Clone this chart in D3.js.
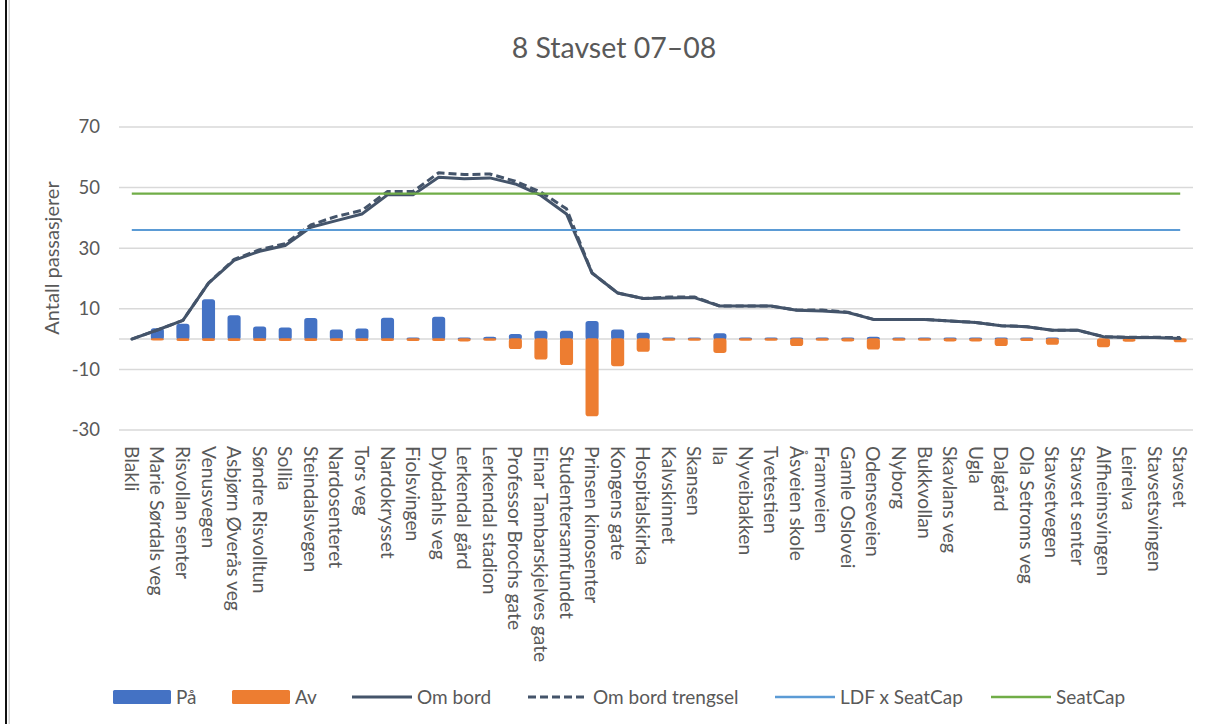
<!DOCTYPE html>
<html>
<head>
<meta charset="utf-8">
<script src="https://cdn.jsdelivr.net/npm/d3@7"></script>
<style>
  html, body { margin: 0; padding: 0; background: #ffffff; }
  svg { display: block; }
  text { font-family: Lato, "Open Sans", sans-serif; fill: #595959; }
</style>
</head>
<body>
<svg id="chart" width="1208" height="724"></svg>
<script>
// Stops along route 8 (Blakli → Stavset)
const stops = [
  "Blakli", "Marie Sørdals veg", "Risvollan senter", "Venusvegen", "Asbjørn Øverås veg",
  "Søndre Risvolltun", "Sollia", "Steindalsvegen", "Nardosenteret", "Tors veg",
  "Nardokrysset", "Fiolsvingen", "Dybdahls veg", "Lerkendal gård", "Lerkendal stadion",
  "Professor Brochs gate", "Einar Tambarskjelves gate", "Studentersamfundet", "Prinsen kinosenter", "Kongens gate",
  "Hospitalskirka", "Kalvskinnet", "Skansen", "Ila", "Nyveibakken",
  "Tvetestien", "Åsveien skole", "Framveien", "Gamle Oslovei", "Odenseveien",
  "Nyborg", "Bukkvollan", "Skavlans veg", "Ugla", "Dalgård",
  "Ola Setroms veg", "Stavsetvegen", "Stavset senter", "Alfheimsvingen", "Leirelva",
  "Stavsetsvingen", "Stavset"
];

// Boarding (På) per stop
const paa = [
  0, 3.3, 4.8, 12.9, 7.6, 3.9, 3.6, 6.7, 2.9, 3.2,
  6.8, 0.3, 7.1, 0.3, 0.5, 1.4, 2.5, 2.5, 5.7, 2.9,
  1.8, 0.3, 0.3, 1.7, 0.3, 0.3, 0.3, 0.3, 0.3, 0.5,
  0.3, 0.3, 0.3, 0.3, 0.3, 0.3, 0.3, 0, 0, 0,
  0, 0
];

// Alighting (Av) per stop, negative
const av = [
  0, -0.2, -0.4, -0.4, -0.4, -0.4, -0.4, -0.4, -0.4, -0.4,
  -0.4, -0.4, -0.4, -0.5, -0.3, -3.0, -6.5, -8.3, -25.2, -8.7,
  -3.9, -0.3, -0.3, -4.3, -0.3, -0.3, -2.0, -0.3, -0.5, -3.2,
  -0.3, -0.3, -0.5, -0.5, -2.0, -0.4, -1.6, 0, -2.4, -0.6,
  0, -0.8
];

// Passengers on board after each stop
const omBord = [
  0, 3.0, 6.2, 18.5, 26.0, 29.0, 30.9, 36.9, 39.1, 41.3,
  47.6, 47.6, 53.4, 52.9, 53.2, 51.2, 47.4, 41.3, 21.8, 15.2,
  13.4, 13.6, 13.7, 10.9, 10.9, 10.9, 9.5, 9.3, 8.8, 6.5,
  6.5, 6.5, 6.0, 5.5, 4.4, 4.1, 2.9, 2.9, 0.8, 0.5,
  0.5, 0.2
];

// On board, crowded departures
const omBordTrengsel = [
  0, 3.0, 6.2, 18.5, 26.3, 29.5, 31.5, 37.7, 40.5, 42.5,
  48.7, 48.7, 54.9, 54.3, 54.5, 52.1, 48.5, 43.0, 21.8, 15.2,
  13.4, 13.9, 13.9, 10.9, 10.9, 10.9, 9.6, 9.6, 8.9, 6.5,
  6.5, 6.5, 6.0, 5.5, 4.4, 4.1, 2.9, 2.9, 0.8, 0.6,
  0.6, 0.5
];

// Capacity reference levels
const ldfSeatCap = 36;
const seatCap = 48;

const yTicks = [-30, -10, 10, 30, 50, 70];

const title = "8 Stavset 07–08";
const yTitle = "Antall passasjerer";

const colors = {
  paa: "#4472C4",
  av: "#ED7D31",
  bord: "#44546A",
  ldf: "#5B9BD5",
  seat: "#70AD47",
  grid: "#D9D9D9"
};

const svg = d3.select("#chart");

// Frame edge on the left
svg.append("rect").attr("x", 5).attr("y", 0).attr("width", 2).attr("height", 724).attr("fill", "#111");
svg.append("rect").attr("x", 8.5).attr("y", 0).attr("width", 1.5).attr("height", 724).attr("fill", "#d4d4d4");

const plot = { left: 119, right: 1193, top: 127, bottom: 430 };

const x = d3.scaleBand().domain(stops).range([plot.left, plot.right]).padding(0);
const y = d3.scaleLinear().domain([-30, 70]).range([plot.bottom, plot.top]);
const cx = d => x(d) + x.bandwidth() / 2;

// Gridlines
svg.append("g").selectAll("line").data(yTicks).join("line")
  .attr("x1", plot.left).attr("x2", plot.right)
  .attr("y1", d => y(d)).attr("y2", d => y(d))
  .attr("stroke", colors.grid).attr("stroke-width", 1.5);

// Category axis line at zero
svg.append("line")
  .attr("x1", plot.left).attr("x2", plot.right)
  .attr("y1", y(0)).attr("y2", y(0))
  .attr("stroke", colors.grid).attr("stroke-width", 1.5);

// Value axis labels (plain hyphen for negatives)
const yAxis = d3.axisLeft(y).tickValues(yTicks).tickSize(0).tickPadding(0)
  .tickFormat(d => String(d));
const gy = svg.append("g").attr("transform", `translate(100,0)`).call(yAxis);
gy.select(".domain").remove();
gy.selectAll("text").attr("font-size", 18.5).attr("fill", "#595959")
  .style("font-family", "Lato, 'Open Sans', sans-serif");

// Bars
const barW = x.bandwidth() * 0.45;
function drawBars(values, color) {
  svg.append("g").selectAll("rect")
    .data(stops.map((s, i) => ({ s, v: values[i] })).filter(d => d.v !== 0))
    .join("rect")
    .attr("x", d => cx(d.s) - barW / 2)
    .attr("width", barW)
    .attr("y", d => Math.min(y(d.v), y(0)))
    .attr("height", d => Math.abs(y(d.v) - y(0)))
    .attr("rx", 2)
    .attr("fill", color)
    .attr("stroke", color)
    .attr("stroke-width", 1.6)
    .attr("stroke-linejoin", "round");
}
drawBars(paa, colors.paa);
drawBars(av, colors.av);

// Lines
const line = d3.line().x((d, i) => cx(stops[i])).y(d => y(d));

svg.append("path").datum(omBord).attr("d", line)
  .attr("fill", "none").attr("stroke", colors.bord).attr("stroke-width", 3)
  .attr("stroke-linejoin", "round").attr("stroke-linecap", "round");

svg.append("path").datum(omBordTrengsel).attr("d", line)
  .attr("fill", "none").attr("stroke", colors.bord).attr("stroke-width", 3)
  .attr("stroke-dasharray", "8,4").attr("stroke-linejoin", "round");

svg.append("path").datum(stops.map(() => ldfSeatCap)).attr("d", line)
  .attr("fill", "none").attr("stroke", colors.ldf).attr("stroke-width", 2.2);

svg.append("path").datum(stops.map(() => seatCap)).attr("d", line)
  .attr("fill", "none").attr("stroke", colors.seat).attr("stroke-width", 2.2);

// Category labels, rotated to read downward
svg.append("g").selectAll("text").data(stops).join("text")
  .attr("transform", d => `translate(${cx(d)},446) rotate(90)`)
  .attr("dy", "0.36em")
  .attr("text-anchor", "start")
  .attr("font-size", 19.3)
  .text(d => d);

// Title
svg.append("text")
  .attr("x", 614).attr("y", 58)
  .attr("text-anchor", "middle")
  .attr("font-size", 28.5)
  .text(title);

// Value axis title
svg.append("text")
  .attr("transform", "translate(52,258) rotate(-90)")
  .attr("dy", "0.36em")
  .attr("text-anchor", "middle")
  .attr("font-size", 20)
  .text(yTitle);

// Legend
const legendItems = [
  { label: "På", type: "rect", color: colors.paa, x: 113 },
  { label: "Av", type: "rect", color: colors.av, x: 232 },
  { label: "Om bord", type: "line", color: colors.bord, x: 352, w: 3 },
  { label: "Om bord trengsel", type: "dash", color: colors.bord, x: 528, w: 3 },
  { label: "LDF x SeatCap", type: "line", color: colors.ldf, x: 775, w: 2.5 },
  { label: "SeatCap", type: "line", color: colors.seat, x: 991, w: 2.5 }
];
const ly = 697;
const lg = svg.append("g");
legendItems.forEach(it => {
  if (it.type === "rect") {
    lg.append("rect").attr("x", it.x).attr("y", ly - 7).attr("width", 58).attr("height", 14)
      .attr("rx", 1.5).attr("fill", it.color);
  } else {
    lg.append("line").attr("x1", it.x).attr("x2", it.x + 60).attr("y1", ly).attr("y2", ly)
      .attr("stroke", it.color).attr("stroke-width", it.w)
      .attr("stroke-dasharray", it.type === "dash" ? "8,4" : null);
  }
  lg.append("text")
    .attr("x", it.x + (it.type === "rect" ? 63 : 65))
    .attr("y", ly).attr("dy", "0.36em")
    .attr("font-size", 19)
    .text(it.label);
});
</script>
</body>
</html>
